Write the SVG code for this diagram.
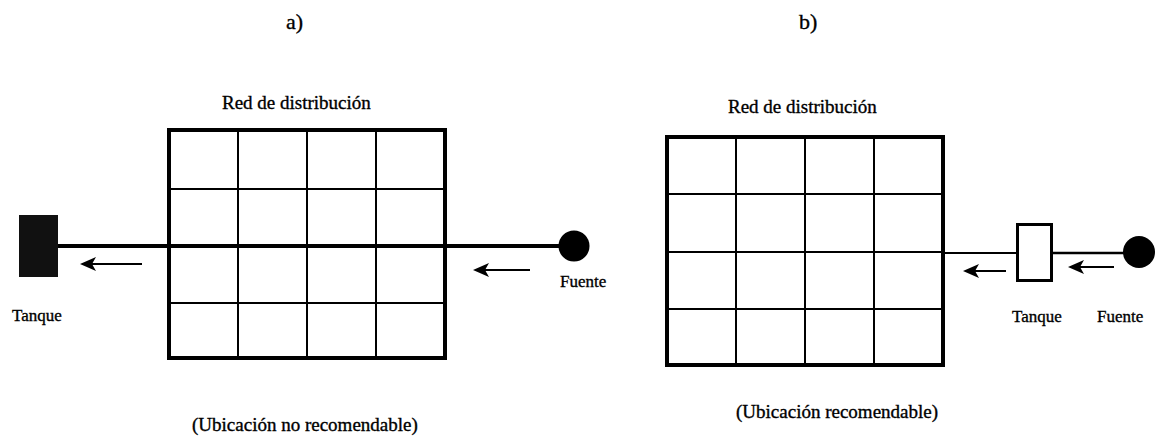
<svg xmlns="http://www.w3.org/2000/svg" width="1160" height="441" viewBox="0 0 1160 441">
  <defs>
    <style>
      text { font-family: "Liberation Serif", "Times New Roman", serif; fill: #000; stroke: #000; stroke-width: 0.35; }
      .title { font-size: 22px; }
      .lbl { font-size: 19px; }
      .small { font-size: 17px; }
      .frame { fill: none; stroke: #000; stroke-width: 4; }
      .cell { fill: none; stroke: #000; stroke-width: 2; }
      .pipe { fill: none; stroke: #000; }
      .flow { fill: none; stroke: #000; stroke-width: 2; }
    </style>
    <!-- flow-direction arrowhead, tip at the origin, pointing left -->
    <path id="flowhead" d="M0,0 L16,-7 L12,0 L16,7 Z" fill="#000"/>
  </defs>
  <rect width="1160" height="441" fill="#fff"/>

  <!-- panel captions -->
  <text class="title" x="286" y="29">a)</text>
  <text class="title" x="799" y="29">b)</text>

  <!-- ===== a) tank downstream of the network ===== -->
  <g id="a-network">
    <text class="lbl" x="222" y="109">Red de distribución</text>
    <rect class="frame" x="169" y="130" width="276" height="228"/>
    <path class="cell" d="M238,130 V358 M307,130 V358 M376,130 V358 M169,189 H445 M169,303 H445"/>
    <text class="lbl" x="192" y="431">(Ubicación no recomendable)</text>
  </g>

  <g id="a-tank">
    <rect x="19" y="215" width="39" height="62" fill="#111"/>
    <text class="small" x="12" y="321">Tanque</text>
  </g>

  <g id="a-source">
    <circle cx="574" cy="246" r="15.5" fill="#000"/>
    <text class="small" x="560" y="287">Fuente</text>
  </g>

  <g id="a-connectors">
    <line class="pipe" x1="58" y1="246" x2="560" y2="246" stroke-width="4"/>
    <line class="flow" x1="142" y1="264" x2="92" y2="264"/>
    <use href="#flowhead" x="80" y="264"/>
    <line class="flow" x1="530" y1="270" x2="485" y2="270"/>
    <use href="#flowhead" x="473" y="270"/>
  </g>

  <!-- ===== b) tank between source and network ===== -->
  <g id="b-network">
    <text class="lbl" x="728" y="113">Red de distribución</text>
    <rect class="frame" x="667" y="137" width="276" height="228"/>
    <path class="cell" d="M736,137 V365 M805,137 V365 M874,137 V365 M667,194 H943 M667,252 H943 M667,309 H943"/>
    <text class="lbl" x="736" y="418">(Ubicación recomendable)</text>
  </g>

  <g id="b-tank">
    <rect x="1017.5" y="224.5" width="34" height="56" fill="#fff" stroke="#000" stroke-width="3"/>
    <text class="small" x="1012" y="322">Tanque</text>
  </g>

  <g id="b-source">
    <circle cx="1139" cy="252" r="16" fill="#000"/>
    <text class="small" x="1097" y="322">Fuente</text>
  </g>

  <g id="b-connectors">
    <line class="pipe" x1="943" y1="253" x2="1016" y2="253" stroke-width="2"/>
    <line class="pipe" x1="1053" y1="253" x2="1125" y2="253" stroke-width="2.5"/>
    <line class="flow" x1="1006" y1="271" x2="975" y2="271"/>
    <use href="#flowhead" x="963" y="271"/>
    <line class="flow" x1="1114" y1="267" x2="1080" y2="267"/>
    <use href="#flowhead" x="1068" y="267"/>
  </g>
</svg>
